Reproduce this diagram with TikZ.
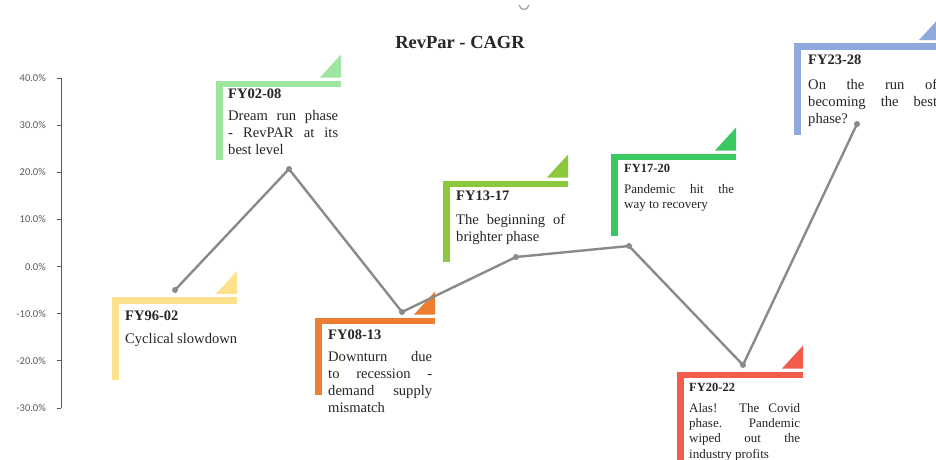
\documentclass[tikz,border=0pt]{standalone}
\usepackage{fontspec}
\setmainfont{Liberation Serif}
\newfontfamily\axisfont{Carlito}
\definecolor{cYel}{HTML}{FFE08C}
\definecolor{cLgr}{HTML}{9EE6A0}
\definecolor{cOra}{HTML}{ED7D31}
\definecolor{cYgr}{HTML}{8CC83C}
\definecolor{cGrn}{HTML}{3AC862}
\definecolor{cRed}{HTML}{F25C4B}
\definecolor{cBlu}{HTML}{8EA9DB}
\definecolor{cLine}{HTML}{8A8A8A}
\definecolor{cAxis}{HTML}{595959}
\definecolor{cText}{HTML}{262626}
\newcommand\mycallout[5]{%
  \fill[#1] (#2,#3) rectangle (#4,#3+6.5);
  \fill[#1] (#2,#3) rectangle (#2+7,#5);
  \fill[#1] (#4-21,#3-3) -- (#4,#3-3) -- (#4,#3-26) -- cycle;
}
\begin{document}
\begin{tikzpicture}[x=1pt,y=-1pt,
  hd/.style={anchor=north west,inner sep=0pt,text=cText,font=\bfseries\fontsize{14.5}{16}\selectfont},
  hdsmall/.style={anchor=north west,inner sep=0pt,text=cText,font=\bfseries\fontsize{12.5}{15}\selectfont},
  bd/.style={anchor=north west,inner sep=0pt,align=justify,text=cText,font=\fontsize{14.6}{17}\selectfont},
  bdsmall/.style={anchor=north west,inner sep=0pt,align=justify,text=cText,font=\fontsize{13}{15.3}\selectfont},
  dot/.style={circle,fill=cLine,inner sep=0pt,minimum size=6pt},
  dataline/.style={draw=cLine,line width=2.4pt},
  axisline/.style={draw=cAxis,line width=0.8pt},
  axlab/.style={anchor=east,inner sep=0pt,text=cAxis,font=\axisfont\fontsize{10.5}{12}\selectfont}
]
\useasboundingbox (0,0) rectangle (936,459);
\fill[white] (0,0) rectangle (936,459);

% title
\node[inner sep=0pt,text=cText,font=\bfseries\fontsize{18.5}{20}\selectfont] (title) at (460,42) {RevPar - CAGR};
\draw[cLine!80,line width=1.2pt] (519,5) .. controls (521,11) and (527,11) .. (529,5);

% axis
\draw[axisline] (61,78) -- (61,408);
\foreach \v [count=\i] in {40,30,20,10,0,-10,-20,-30}{
  \pgfmathsetmacro\yy{78+(\i-1)*47.14}
  \draw[axisline] (57,\yy) -- (61,\yy);
  \node[axlab] (ax\i) at (46,\yy) {\v.0\%};
}

% callouts
\mycallout{cYel}{112}{297}{237}{380}
\mycallout{cLgr}{216}{80.5}{341}{160}
\mycallout{cOra}{315}{317.5}{435}{395}
\mycallout{cYgr}{443}{180.5}{568}{262}
\mycallout{cGrn}{611}{153.5}{736}{236}
\mycallout{cRed}{677}{371.5}{803}{462}
\mycallout{cBlu}{794}{43}{940}{135}

% texts
\node[hd] (h1) at (125,311) {FY96-02};
\node[bd,text width=112pt] (b1) at (125,333) {Cyclical slowdown};

\node[hd] (h2) at (228,89) {FY02-08};
\node[bd,text width=110pt] (b2) at (228,110) {Dream run phase\linebreak - RevPAR at its\linebreak best level};

\node[hd] (h3) at (328,330) {FY08-13};
\node[bd,text width=104pt] (b3) at (328,351) {Downturn due\linebreak to recession -\linebreak demand supply\linebreak mismatch};

\node[hd] (h4) at (456,191) {FY13-17};
\node[bd,text width=109pt] (b4) at (456,214) {The beginning of\linebreak brighter phase};

\node[hdsmall] (h5) at (624,164) {FY17-20};
\node[bdsmall,text width=110pt] (b5) at (624,184) {Pandemic hit the\linebreak way to recovery};

\node[hdsmall] (h6) at (689,383) {FY20-22};
\node[bdsmall,text width=111pt] (b6) at (689,403) {Alas! The Covid\linebreak phase. Pandemic\linebreak wiped out the\linebreak industry profits};

\node[hd] (h7) at (808,55) {FY23-28};
\node[bd,text width=129pt] (b7) at (808,79) {On the run of\linebreak becoming the best\linebreak phase?};

% data
\node[dot] (p1) at (175,290) {};
\node[dot] (p2) at (289,169) {};
\node[dot] (p3) at (402,312) {};
\node[dot] (p4) at (516,257) {};
\node[dot] (p5) at (629,246) {};
\node[dot] (p6) at (743,365) {};
\node[dot] (p7) at (857,124) {};
\draw[dataline,line join=round] (p1.center) -- (p2.center) -- (p3.center) -- (p4.center) -- (p5.center) -- (p6.center) -- (p7.center);
\end{tikzpicture}
\end{document}
